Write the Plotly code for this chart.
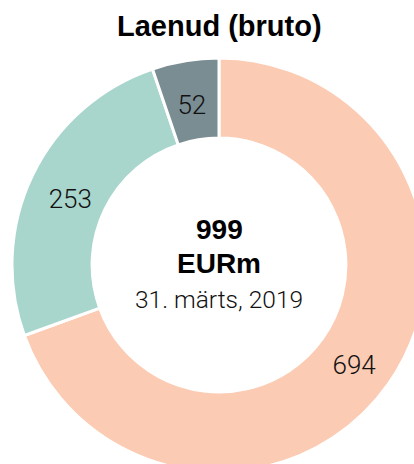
import plotly.graph_objects as go

# ---- data ----
categories = ["Segment A", "Segment B", "Segment C"]
values = [694, 253, 52]
colors = ["#FBCBB3", "#A8D5CC", "#7A8D92"]
title_text = "Laenud (bruto)"
unit_label = "EURm"
date_label = "31. märts, 2019"

total = sum(values)

# ---- layout geometry ----
W, H = 438, 530
R = 207          # outer radius of the ring (px)
HOLE = 0.613     # hole fraction of the ring
R_TXT = 194      # radius of the invisible label-carrier pie (px)
HOLE_TXT = 0.701
TXT_DROP = 5     # px: visual baseline correction for the value labels

ring = go.Pie(
    labels=categories,
    values=values,
    sort=False,
    direction="clockwise",
    rotation=0,
    hole=HOLE,
    marker=dict(colors=colors, line=dict(color="white", width=3)),
    textinfo="none",
    domain=dict(x=[(W / 2 - R) / W, (W / 2 + R) / W], y=[0, 1]),
    showlegend=False,
    hoverinfo="skip",
)

# transparent pie with same values, only used to place value labels mid-ring
labels_trace = go.Pie(
    labels=categories,
    values=values,
    sort=False,
    direction="clockwise",
    rotation=0,
    hole=HOLE_TXT,
    marker=dict(colors=["rgba(0,0,0,0)"] * len(values), line=dict(width=0)),
    textinfo="value",
    textposition="inside",
    insidetextorientation="horizontal",
    textfont=dict(family="Roboto", size=26, color="#111111", weight=300),
    domain=dict(x=[(W / 2 - R_TXT) / W, (W / 2 + R_TXT) / W],
                y=[0.5 - (R_TXT + TXT_DROP) / H, 0.5 + (R_TXT - TXT_DROP) / H]),
    showlegend=False,
    hoverinfo="skip",
)

fig = go.Figure([ring, labels_trace])

annotations = [
    dict(text=f"<b>{title_text}</b>", x=0.5, y=1 - 26 / H, font=dict(family="Liberation Sans", size=29, color="#000000")),
    dict(text=f"<b>{total}</b>", x=0.5, y=1 - 229 / H, font=dict(family="Liberation Sans", size=28, color="#000000")),
    dict(text=f"<b>{unit_label}</b>", x=0.5, y=1 - 263 / H, font=dict(family="Liberation Sans", size=28, color="#000000")),
    dict(text=date_label, x=0.5, y=1 - 299 / H, font=dict(family="Roboto", size=24.5, color="#111111", weight=300)),
]
for a in annotations:
    a.update(xref="paper", yref="paper", xanchor="center", yanchor="middle", showarrow=False)

fig.update_layout(
    width=W,
    height=H,
    margin=dict(l=0, r=0, t=0, b=0),
    paper_bgcolor="white",
    plot_bgcolor="white",
    annotations=annotations,
    uniformtext=dict(minsize=26, mode="show"),
)

fig.write_html(
    "out.html",
    config={"displayModeBar": False},
    post_script="document.body.style.margin='0';document.body.style.overflow='hidden';",
)
